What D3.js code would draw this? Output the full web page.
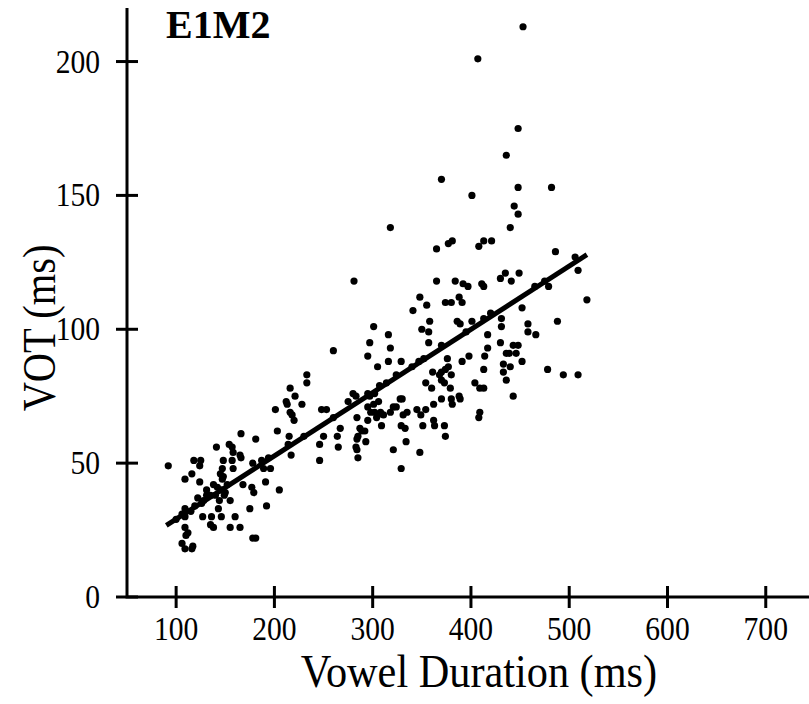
<!DOCTYPE html>
<html>
<head>
<meta charset="utf-8">
<script src="https://cdn.jsdelivr.net/npm/d3@7"></script>
<style>
  body { margin: 0; background: #fff; }
  text { font-family: "Liberation Serif", "Times New Roman", serif; fill: #000; }
</style>
</head>
<body>
<svg id="chart"></svg>
<script>

// vowel duration (ms), VOT (ms)
var points = [
  [92,49],[141,56],[118,51],[125,51],[124,49],[148,51],[147,48],[148,45],[116,46],[109,44],[124,43],
  [138,42],[142,41],[146,40],[140,38],[149,38],[144,36],[131,38],[122,37],[119,34],[126,35],[109,33],
  [106,31],[109,30],[127,30],[136,30],[138,26],[146,30],[109,26],[112,24],[110,23],[106,20],[117,19],
  [116,18],[109,18],[100,29],[115,32],[128,36],[135,38],[143,33],[135,27],
  [216,78],[212,73],[213,72],[201,70],[216,69],[203,62],[215,60],[166,61],[181,59],[154,57],[157,56],
  [158,54],[165,53],[166,52],[157,51],[158,48],[178,50],[187,51],[194,52],[189,48],[196,48],[145,46],
  [147,44],[131,40],[152,42],[168,42],[177,41],[179,39],[191,43],[205,40],[150,39],[155,36],[175,33],[192,34],
  [233,83],[233,80],[221,75],[228,72],[218,68],[220,66],[248,70],[253,70],[250,60],[246,57],[214,57],
  [217,53],[246,51],
  [281,118],[301,101],[316,98],[297,95],[318,93],[295,90],[260,92],[316,88],[305,86],[324,83],[307,79],
  [314,80],[280,76],[283,75],[275,73],[295,76],[297,75],[302,76],[306,73],[301,72],[321,71],[324,71],
  [295,71],[298,69],[302,69],[305,68],[308,69],[311,68],[284,67],[295,66],[304,67],[318,69],[309,64],
  [267,63],[287,63],
  [289,62],[292,62],[264,60],[265,56],[285,60],[284,59],[293,58],[283,56],[284,55],[285,52],
  [355,109],[341,107],[374,110],[380,110],[391,110],[358,103],[350,100],[357,99],[386,103],[389,102],
  [401,103],[413,104],[431,104],[431,101],[357,95],[370,94],[417,98],[430,95],[443,94],[448,94],[417,93],
  [436,91],[439,91],[446,91],[376,89],[398,90],[414,90],[329,88],[347,88],[391,88],[377,86],[374,85],
  [370,84],[368,83],[361,84],[413,85],[433,87],[433,84],[440,86],[370,81],[373,80],[380,83],[354,80],
  [360,78],[379,78],[404,80],[409,78],[413,78],[436,81],[443,75],[328,74],[330,74],[370,74],[380,74],
  [381,72],[388,75],[389,74],[362,72],[354,70],[345,70],[335,69],[331,68],[349,68],[362,66],[363,64],
  [373,64],[374,60],[329,64],[333,63],[351,64],[408,67],[409,69],[334,58],[321,55],[348,54],[329,48],
  [444,146],[448,143],[440,138],[318,138],[365,130],[377,132],[381,133],[408,131],[413,133],[421,133],
  [430,119],[435,121],[441,118],[449,121],[365,118],[384,118],[392,117],[397,116],[411,117],[413,116],
  [348,112],[388,112],[452,108],[458,102],[458,99],[452,88],
  [448,175],[436,165],[370,156],[401,150],[448,153],[453,213],[407,201],
  [482,153],[486,129],[479,116],[466,98],[488,103],[478,85],[494,83],[509,83],[506,127],[509,122],[518,111],
  [160,30],[165,26],[178,22],[181,22],[155,26],
  [230,60],[260,67],[340,86],[352,89],[395,99],[420,106],[465,116],[475,118]
];

// regression line VOT = a + b * duration, drawn over the data range
var fitCoef = [5.45, 0.2363];
var fitRange = [90, 518];

var xTicks = [100, 200, 300, 400, 500, 600, 700];
var yTicks = [0, 50, 100, 150, 200];

var panelTitle = "E1M2";
var xTitle = "Vowel Duration (ms)";
var yTitle = "VOT (ms)";

var W = 809, H = 704;
var tick = 11;      // ticks cross the axis line
var narrow = 0.87;  // the original lettering is tall and narrow

var svg = d3.select("#chart")
    .attr("width", W)
    .attr("height", H);

var x = d3.scaleLinear().domain([50, 744]).range([127, 809]);
var y = d3.scaleLinear().domain([0, 220]).range([597, 8]);

var x0 = x.range()[0], y0 = y.range()[0];

// axis lines
svg.append("path")
    .attr("d", "M" + x0 + "," + y.range()[1] + "V" + y0 + "H" + x.range()[1])
    .attr("fill", "none")
    .attr("stroke", "#000")
    .attr("stroke-width", 3);

// y ticks (crossing)
svg.selectAll("line.ytick")
  .data(yTicks)
  .enter()
  .append("line")
    .attr("class", "ytick")
    .attr("x1", x0 - tick)
    .attr("x2", x0 + tick)
    .attr("y1", function(d) { return y(d); })
    .attr("y2", function(d) { return y(d); })
    .attr("stroke", "#000")
    .attr("stroke-width", 3);

svg.selectAll("text.ylab")
  .data(yTicks)
  .enter()
  .append("text")
    .attr("class", "ylab")
    .attr("text-anchor", "end")
    .attr("transform", function(d) { return "translate(100," + (y(d) + 11) + ") scale(" + narrow + ",1)"; })
    .style("font-size", "34px")
    .text(function(d) { return d; });

// x ticks (crossing)
svg.selectAll("line.xtick")
  .data(xTicks)
  .enter()
  .append("line")
    .attr("class", "xtick")
    .attr("x1", function(d) { return x(d); })
    .attr("x2", function(d) { return x(d); })
    .attr("y1", y0 - tick)
    .attr("y2", y0 + tick)
    .attr("stroke", "#000")
    .attr("stroke-width", 3);

svg.selectAll("text.xlab")
  .data(xTicks)
  .enter()
  .append("text")
    .attr("class", "xlab")
    .attr("text-anchor", "middle")
    .attr("transform", function(d) { return "translate(" + x(d) + ",640) scale(" + narrow + ",1)"; })
    .style("font-size", "34px")
    .text(function(d) { return d; });

// points
svg.append("g")
  .selectAll("circle")
  .data(points)
  .enter()
  .append("circle")
    .attr("cx", function(d) { return x(d[0]); })
    .attr("cy", function(d) { return y(d[1]); })
    .attr("r", 3.6)
    .attr("fill", "#000");

// fitted line
svg.append("line")
    .attr("x1", x(fitRange[0]))
    .attr("y1", y(fitCoef[0] + fitCoef[1] * fitRange[0]))
    .attr("x2", x(fitRange[1]))
    .attr("y2", y(fitCoef[0] + fitCoef[1] * fitRange[1]))
    .attr("stroke", "#000")
    .attr("stroke-width", 5);

// titles
svg.append("text")
    .attr("x", 166)
    .attr("y", 38)
    .style("font-size", "40px")
    .style("font-weight", "bold")
    .text(panelTitle);

svg.append("text")
    .attr("transform", "translate(479,687) scale(0.9,1)")
    .attr("text-anchor", "middle")
    .style("font-size", "47px")
    .text(xTitle);

svg.append("text")
    .attr("transform", "translate(55,328) rotate(-90) scale(0.88,1)")
    .attr("text-anchor", "middle")
    .style("font-size", "46px")
    .text(yTitle);

</script>
</body>
</html>
